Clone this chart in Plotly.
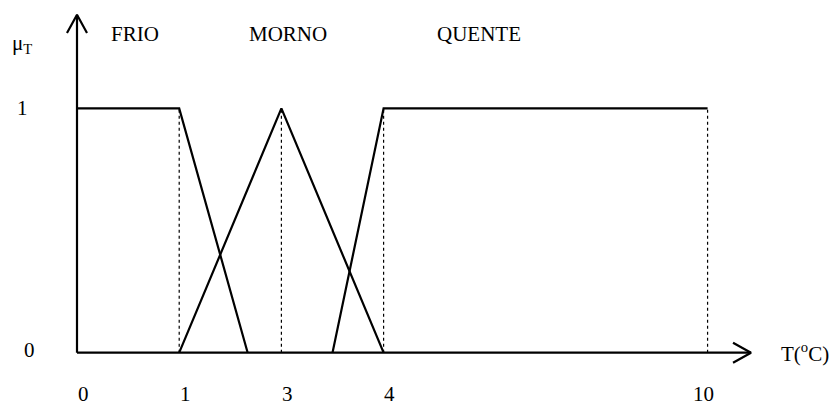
import plotly.graph_objects as go

# eixo T desenhado de forma esquemática: posição no gráfico -> rótulo
tick_pos = [0, 1, 2, 3, 6.17]
tick_text = ["0", "1", "3", "4", "10"]

# funções de pertinência (posição no eixo, grau)
frio_x = [0, 1, 1.67]
frio_y = [1, 1, 0]
morno_x = [1, 2, 3]
morno_y = [0, 1, 0]
quente_x = [2.5, 3, 6.17]
quente_y = [0, 1, 1]

# linhas pontilhadas de referência
guia_x = [1, 2, 3, 6.17]

set_names = ["FRIO", "MORNO", "QUENTE"]
set_label_x = [0.57, 2.06, 3.93]

# geometria dos eixos (unidades de dados)
X_END = 6.595
Y_END = 1.383
X_RANGE = [-0.7534, 7.407]
Y_RANGE = [-0.2264, 1.4437]

FONT = dict(family="Liberation Serif", size=21, color="black")
SOLID = dict(color="black", width=2.2)

fig = go.Figure()

# eixos com setas abertas
fig.add_trace(go.Scatter(x=[0, 0], y=[0, Y_END], mode="lines", line=SOLID))
fig.add_trace(go.Scatter(x=[-0.098, 0, 0.098], y=[Y_END - 0.074, Y_END, Y_END - 0.074],
                         mode="lines", line=SOLID))
fig.add_trace(go.Scatter(x=[0, X_END], y=[0, 0], mode="lines", line=SOLID))
fig.add_trace(go.Scatter(x=[X_END - 0.176, X_END, X_END - 0.176], y=[0.041, 0, -0.041],
                         mode="lines", line=SOLID))

# guias pontilhadas
for gx in guia_x:
    fig.add_trace(go.Scatter(x=[gx, gx], y=[0, 1], mode="lines",
                             line=dict(color="black", width=1.2, dash="dot")))

# conjuntos fuzzy
for xs, ys in [(frio_x, frio_y), (morno_x, morno_y), (quente_x, quente_y)]:
    fig.add_trace(go.Scatter(x=xs, y=ys, mode="lines", line=SOLID))

annotations = []
for name, lx in zip(set_names, set_label_x):
    annotations.append(dict(x=lx, y=1.305, text=name))
for tp, tt in zip(tick_pos, tick_text):
    shift = 6 if tt != "10" else -4
    annotations.append(dict(x=tp, y=-0.168, text=tt, xshift=shift))
annotations += [
    dict(x=-0.538, y=1, text="1"),
    dict(x=-0.46, y=0.01, text="0"),
    dict(x=-0.538, y=1.264, text="μ<sub>T</sub>"),
    dict(x=7.12, y=0.0, text="T(<sup>o</sup>C)"),
]
for a in annotations:
    a.update(xref="x", yref="y", showarrow=False, font=FONT, borderpad=0)

fig.update_layout(
    width=834, height=408,
    margin=dict(l=0, r=0, t=0, b=0),
    paper_bgcolor="white", plot_bgcolor="white",
    showlegend=False,
    annotations=annotations,
)
fig.update_xaxes(range=X_RANGE, visible=False)
fig.update_yaxes(range=Y_RANGE, visible=False)

fig.write_html("out.html", config={"displayModeBar": False},
               post_script="document.body.style.margin='0';document.body.style.overflow='hidden';")
